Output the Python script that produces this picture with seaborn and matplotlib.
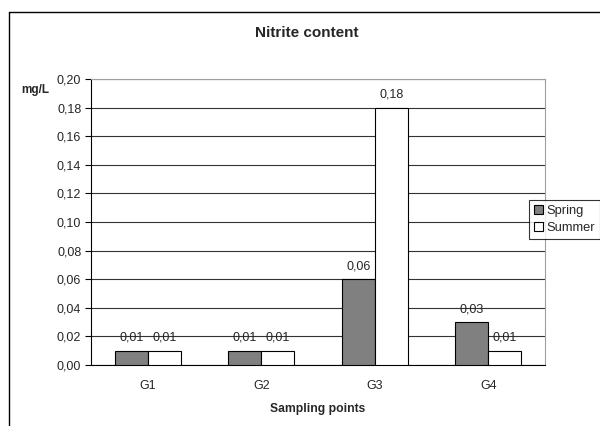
import matplotlib
matplotlib.use("Agg")
import matplotlib.pyplot as plt
import seaborn as sns
import pandas as pd
import numpy as np
from matplotlib.lines import Line2D
from matplotlib.patches import Patch

categories = ["G1", "G2", "G3", "G4"]
spring = [0.01, 0.01, 0.06, 0.03]
summer = [0.01, 0.01, 0.18, 0.01]
yticks = [0.00, 0.02, 0.04, 0.06, 0.08, 0.10, 0.12, 0.14, 0.16, 0.18, 0.20]

df = pd.DataFrame({
    "point": categories * 2,
    "season": ["Spring"] * 4 + ["Summer"] * 4,
    "value": spring + summer,
})

sns.set_style("white")
plt.rcParams["font.family"] = ["Liberation Sans", "DejaVu Sans"]

fig = plt.figure(figsize=(6, 4.26), dpi=100)
ax = fig.add_axes([91/600, 1-365/426, (545-91)/600, (365-79)/426])

sns.barplot(data=df, x="point", y="value", hue="season", order=categories,
            hue_order=["Spring", "Summer"],
            palette={"Spring": "#808080", "Summer": "#ffffff"},
            edgecolor="black", linewidth=0.8, width=0.58, ax=ax, legend=False,
            zorder=3)

ax.set_ylim(0, 0.20)
ax.set_xlim(-0.5, 3.5)
ax.set_yticks(yticks)
ax.set_yticklabels([f"{v:.2f}".replace(".", ",") for v in yticks], fontsize=9)
ax.yaxis.grid(True, color="#333333", linewidth=0.8, zorder=0)
ax.set_axisbelow(True)

ax.set_xticks(range(4))
ax.set_xticklabels(categories, fontsize=9)
ax.set_xticks(np.arange(-0.5, 4.0, 1.0), minor=True)
ax.tick_params(axis="x", which="major", length=0, pad=11)
ax.tick_params(axis="x", which="minor", length=4, width=0.8, color="black", direction="out")
ax.tick_params(axis="y", length=4, width=0.8, color="black", direction="out", left=True, pad=3)

for s in ["left", "bottom"]:
    ax.spines[s].set_color("black")
    ax.spines[s].set_linewidth(0.8)
for s in ["right", "top"]:
    ax.spines[s].set_color("#a0a0a0")
    ax.spines[s].set_linewidth(0.8)
    ax.spines[s].set_visible(True)

ax.set_xlabel("Sampling points", fontsize=8.7, fontweight="bold", labelpad=8)
ax.set_ylabel("")

for cont in ax.containers:
    labels = [f"{b.get_height():.2f}".replace(".", ",") for b in cont]
    ax.bar_label(cont, labels=labels, fontsize=9, padding=5)

fig.text(307/600, 1-33/426, "Nitrite content", fontsize=11, fontweight="bold",
         ha="center", va="center")
fig.text(35.5/600, 1-90/426, "mg/L", fontsize=8.5, fontweight="bold",
         ha="center", va="center")

handles = [Patch(facecolor="#808080", edgecolor="black", linewidth=0.8, label="Spring"),
           Patch(facecolor="#ffffff", edgecolor="black", linewidth=0.8, label="Summer")]
leg = fig.legend(handles=handles, loc="upper left", bbox_to_anchor=(529/600, 1-200/426),
                 fontsize=9.3, frameon=True, fancybox=False, edgecolor="black",
                 handlelength=0.7, handleheight=0.7, handletextpad=0.3,
                 borderpad=0.35, labelspacing=0.45, borderaxespad=0)
leg.get_frame().set_linewidth(0.8)

fig.add_artist(Line2D([9/600, 9/600], [0, 1-12/426], color="black", linewidth=1.0,
                      transform=fig.transFigure))
fig.add_artist(Line2D([9/600, 1], [1-12/426, 1-12/426], color="black", linewidth=1.0,
                      transform=fig.transFigure))

fig.savefig("out.png", dpi=100)
